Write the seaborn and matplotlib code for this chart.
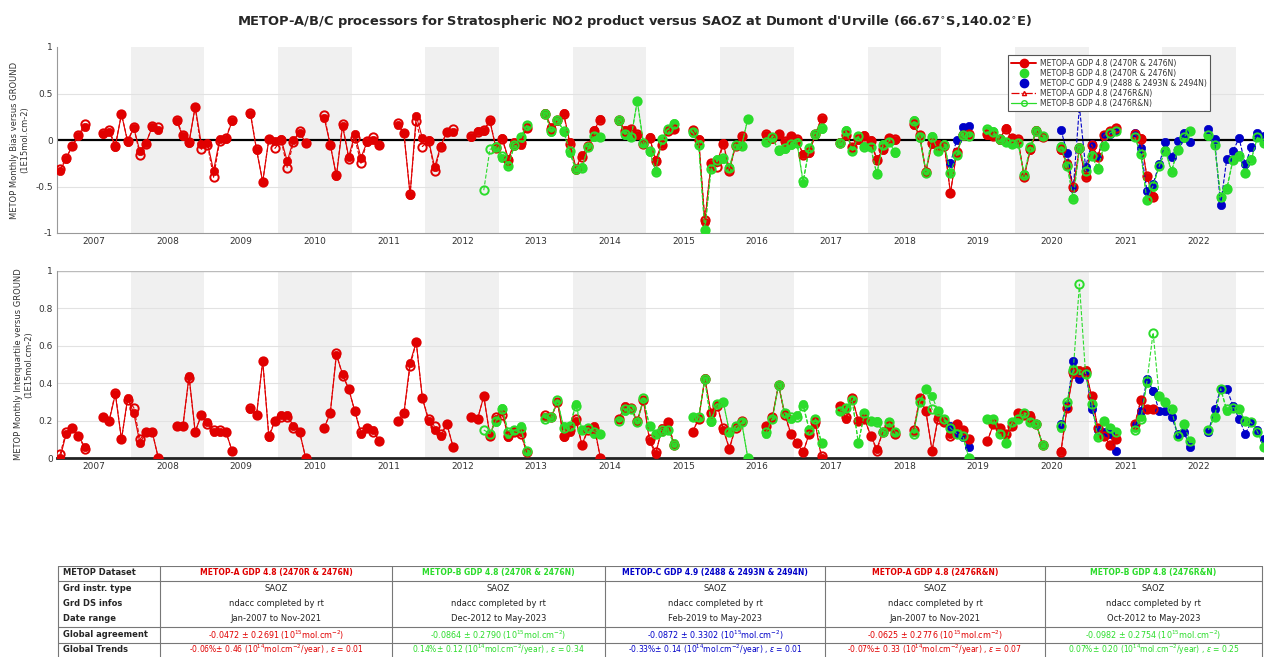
import numpy as np
import pandas as pd
import matplotlib
matplotlib.use("Agg")
import matplotlib.pyplot as plt
from matplotlib.lines import Line2D
import seaborn as sns

na = np.nan

# ---- monthly values (1E15 mol.cm-2), each list starts at its *_start month ----
a_start = "2007-01"
bias_a = [
    -0.33, -0.20, -0.06, 0.04, 0.14, na, na, 0.06, 0.09, -0.07, 0.28, -0.02,
    0.13, -0.12, -0.03, 0.14, 0.11, na, na, 0.20, 0.04, -0.03, 0.36, -0.04,
    -0.03, -0.33, 0.01, 0.01, 0.20, na, na, 0.28, -0.11, -0.45, 0.01, -0.01,
    0.01, -0.23, 0.00, 0.08, -0.03, na, na, 0.24, -0.05, -0.39, 0.15, -0.18,
    0.06, -0.19, -0.02, 0.00, -0.05, na, na, 0.16, 0.07, -0.59, 0.26, 0.02,
    0.00, -0.29, -0.06, 0.09, 0.09, na, na, 0.03, 0.10, 0.10, 0.20, -0.09,
    0.02, -0.20, -0.02, -0.05, 0.14, na, na, 0.29, 0.14, 0.20, 0.29, -0.02,
    -0.30, -0.16, -0.07, 0.11, 0.23, na, na, 0.20, 0.11, 0.11, 0.05, -0.04,
    0.03, -0.21, -0.04, 0.11, 0.12, na, na, 0.11, 0.01, -0.88, -0.26, -0.24,
    -0.03, -0.32, -0.06, 0.03, na, na, na, 0.05, 0.01, 0.06, -0.02, 0.04,
    0.00, -0.15, -0.14, 0.06, 0.23, na, na, -0.02, 0.05, -0.07, 0.00, 0.05,
    0.00, -0.20, -0.11, 0.02, 0.00, na, na, 0.16, 0.04, -0.34, -0.04, -0.04,
    -0.05, -0.57, -0.14, 0.04, 0.05, na, na, 0.05, 0.05, 0.00, 0.13, 0.02,
    0.00, -0.39, -0.11, 0.11, 0.03, na, na, -0.11, -0.25, -0.50, -0.10, -0.39,
    -0.06, -0.18, 0.04, 0.10, 0.12, na, na, 0.06, 0.02, -0.40, -0.60,
]
bias_a2 = [
    -0.31, -0.19, -0.06, 0.05, 0.17, na, na, 0.08, 0.11, -0.06, 0.28, -0.01,
    0.14, -0.16, -0.04, 0.15, 0.14, na, na, 0.22, 0.05, -0.02, 0.35, -0.10,
    -0.05, -0.40, -0.01, 0.02, 0.21, na, na, 0.29, -0.10, -0.45, 0.01, -0.09,
    0.00, -0.30, -0.02, 0.10, -0.03, na, na, 0.27, -0.05, -0.38, 0.17, -0.20,
    0.02, -0.25, -0.01, 0.03, -0.05, na, na, 0.18, 0.07, -0.58, 0.20, -0.07,
    -0.01, -0.33, -0.07, 0.09, 0.12, na, na, 0.04, 0.09, 0.11, 0.21, -0.09,
    0.01, -0.21, -0.05, -0.03, 0.13, na, na, 0.28, 0.12, 0.21, 0.28, -0.04,
    -0.31, -0.18, -0.06, 0.10, 0.22, na, na, 0.21, 0.10, 0.12, 0.06, -0.04,
    0.02, -0.23, -0.05, 0.10, 0.12, na, na, 0.11, 0.00, -0.86, -0.25, -0.29,
    -0.04, -0.33, -0.06, 0.04, na, na, na, 0.06, 0.02, 0.06, -0.01, 0.04,
    0.01, -0.16, -0.13, 0.06, 0.24, na, na, -0.03, 0.05, -0.08, 0.01, 0.04,
    -0.01, -0.22, -0.10, 0.02, 0.01, na, na, 0.17, 0.05, -0.34, -0.03, -0.05,
    -0.06, -0.57, -0.13, 0.05, 0.06, na, na, 0.06, 0.04, 0.01, 0.12, 0.02,
    0.01, -0.40, -0.10, 0.10, 0.03, na, na, -0.10, -0.27, -0.51, -0.09, -0.40,
    -0.05, -0.18, 0.05, 0.10, 0.13, na, na, 0.06, 0.01, -0.39, -0.61,
]
iqr_a = [
    0.00, 0.13, 0.16, 0.12, 0.06, na, na, 0.22, 0.20, 0.34, 0.10, 0.32,
    0.24, 0.08, 0.14, 0.14, 0.00, na, na, 0.17, 0.17, 0.44, 0.14, 0.23,
    0.19, 0.14, 0.14, 0.14, 0.04, na, na, 0.26, 0.23, 0.52, 0.11, 0.20,
    0.23, 0.23, 0.17, 0.14, 0.00, na, na, 0.16, 0.24, 0.55, 0.45, 0.37,
    0.25, 0.13, 0.16, 0.15, 0.09, na, na, 0.20, 0.24, 0.51, 0.62, 0.32,
    0.20, 0.15, 0.12, 0.18, 0.06, na, na, 0.22, 0.21, 0.33, 0.12, 0.21,
    0.25, 0.11, 0.14, 0.14, 0.03, na, na, 0.22, 0.22, 0.30, 0.11, 0.14,
    0.20, 0.07, 0.16, 0.17, 0.00, na, na, 0.21, 0.28, 0.26, 0.20, 0.31,
    0.09, 0.02, 0.16, 0.19, 0.07, na, na, 0.14, 0.21, 0.43, 0.24, 0.29,
    0.15, 0.05, 0.17, 0.20, na, na, na, 0.17, 0.22, 0.39, 0.24, 0.13,
    0.08, 0.03, 0.13, 0.18, 0.00, na, na, 0.28, 0.21, 0.32, 0.20, 0.21,
    0.12, 0.05, 0.14, 0.17, 0.13, na, na, 0.14, 0.32, 0.25, 0.04, 0.22,
    0.20, 0.13, 0.18, 0.15, 0.10, na, na, 0.09, 0.18, 0.16, 0.13, 0.17,
    0.24, 0.23, 0.23, 0.18, 0.07, na, na, 0.04, 0.27, 0.45, 0.47, 0.47,
    0.33, 0.16, 0.12, 0.07, 0.10, na, na, 0.17, 0.31, 0.26, 0.26,
]
iqr_a2 = [
    0.02, 0.14, 0.16, 0.12, 0.05, na, na, 0.22, 0.20, 0.35, 0.10, 0.31,
    0.27, 0.10, 0.14, 0.14, 0.00, na, na, 0.17, 0.17, 0.43, 0.14, 0.23,
    0.18, 0.15, 0.15, 0.14, 0.04, na, na, 0.27, 0.23, 0.52, 0.12, 0.20,
    0.22, 0.22, 0.16, 0.14, 0.00, na, na, 0.16, 0.24, 0.56, 0.44, 0.37,
    0.25, 0.14, 0.16, 0.14, 0.09, na, na, 0.20, 0.24, 0.49, 0.62, 0.32,
    0.21, 0.17, 0.13, 0.18, 0.06, na, na, 0.22, 0.21, 0.33, 0.12, 0.22,
    0.23, 0.12, 0.14, 0.13, 0.03, na, na, 0.23, 0.22, 0.30, 0.12, 0.15,
    0.21, 0.07, 0.15, 0.16, 0.00, na, na, 0.21, 0.27, 0.27, 0.20, 0.31,
    0.10, 0.03, 0.15, 0.19, 0.07, na, na, 0.14, 0.21, 0.42, 0.24, 0.28,
    0.16, 0.05, 0.16, 0.20, na, na, na, 0.17, 0.22, 0.39, 0.23, 0.13,
    0.08, 0.03, 0.13, 0.19, 0.01, na, na, 0.28, 0.22, 0.32, 0.20, 0.21,
    0.12, 0.04, 0.14, 0.17, 0.13, na, na, 0.15, 0.32, 0.25, 0.04, 0.21,
    0.19, 0.12, 0.18, 0.15, 0.10, na, na, 0.09, 0.18, 0.16, 0.13, 0.17,
    0.24, 0.23, 0.22, 0.18, 0.07, na, na, 0.03, 0.27, 0.46, 0.46, 0.46,
    0.33, 0.16, 0.12, 0.07, 0.10, na, na, 0.18, 0.31, 0.26, 0.26,
]

b_start = "2012-12"
bias_b = [
    -0.06,
    -0.19, -0.27, -0.06, 0.02, 0.15, na, na, 0.29, 0.09, 0.21, 0.09, -0.14,
    -0.32, -0.29, -0.08, 0.03, 0.03, na, na, 0.20, 0.05, 0.04, 0.42, -0.04,
    -0.13, -0.33, 0.00, 0.11, 0.18, na, na, 0.08, -0.04, -0.97, -0.30, -0.20,
    -0.20, -0.29, -0.06, -0.06, 0.23, na, na, -0.01, 0.03, -0.12, -0.10, -0.05,
    -0.02, -0.46, -0.09, 0.05, 0.12, na, na, -0.02, 0.11, -0.11, 0.04, -0.06,
    -0.07, -0.36, -0.04, -0.02, -0.14, na, na, 0.21, 0.02, -0.34, 0.04, -0.12,
    -0.04, -0.36, -0.15, 0.04, 0.04, na, na, 0.11, 0.10, 0.00, -0.02, -0.04,
    -0.03, -0.37, -0.07, 0.11, 0.03, na, na, -0.06, -0.27, -0.62, -0.08, -0.32,
    -0.16, -0.30, -0.06, 0.07, 0.10, na, na, 0.04, -0.14, -0.65, -0.50, -0.27,
    -0.11, -0.33, -0.11, 0.02, 0.10, na, na, 0.04, -0.04, -0.62, -0.52, -0.21,
    -0.16, -0.36, -0.20, 0.03, -0.02,
]
iqr_b = [
    0.19,
    0.27, 0.13, 0.15, 0.17, 0.04, na, na, 0.22, 0.22, 0.30, 0.17, 0.17,
    0.29, 0.15, 0.16, 0.13, 0.13, na, na, 0.21, 0.25, 0.26, 0.19, 0.31,
    0.17, 0.13, 0.14, 0.15, 0.08, na, na, 0.22, 0.22, 0.42, 0.19, 0.29,
    0.30, 0.14, 0.17, 0.19, 0.00, na, na, 0.13, 0.21, 0.39, 0.24, 0.21,
    0.23, 0.29, 0.15, 0.21, 0.08, na, na, 0.25, 0.27, 0.31, 0.08, 0.24,
    0.20, 0.20, 0.14, 0.19, 0.14, na, na, 0.14, 0.30, 0.37, 0.33, 0.25,
    0.21, 0.16, 0.14, 0.12, 0.00, na, na, 0.21, 0.21, 0.13, 0.08, 0.19,
    0.21, 0.24, 0.19, 0.18, 0.07, na, na, 0.16, 0.29, 0.48, 0.46, 0.45,
    0.29, 0.12, 0.20, 0.16, 0.14, na, na, 0.16, 0.22, 0.40, 0.36, 0.33,
    0.30, 0.26, 0.12, 0.18, 0.09, na, na, 0.15, 0.22, 0.37, 0.25, 0.27,
    0.26, 0.20, 0.19, 0.14, 0.06,
]

b2_start = "2012-10"
bias_b2 = [
    -0.54, -0.10, -0.08,
    -0.17, -0.28, -0.05, 0.03, 0.16, na, na, 0.28, 0.10, 0.22, 0.10, -0.12,
    -0.31, -0.30, -0.07, 0.04, 0.03, na, na, 0.21, 0.06, 0.03, 0.42, -0.03,
    -0.12, -0.34, 0.01, 0.12, 0.17, na, na, 0.09, -0.05, -0.97, -0.31, -0.22,
    -0.19, -0.30, -0.05, -0.06, 0.23, na, na, -0.02, 0.03, -0.11, -0.09, -0.04,
    -0.03, -0.44, -0.09, 0.06, 0.13, na, na, -0.03, 0.10, -0.12, 0.04, -0.07,
    -0.08, -0.37, -0.05, -0.02, -0.13, na, na, 0.20, 0.03, -0.35, 0.03, -0.12,
    -0.05, -0.35, -0.16, 0.05, 0.04, na, na, 0.12, 0.09, 0.01, -0.02, -0.04,
    -0.03, -0.38, -0.08, 0.10, 0.04, na, na, -0.07, -0.28, -0.63, -0.09, -0.33,
    -0.17, -0.31, -0.06, 0.08, 0.10, na, na, 0.03, -0.15, -0.65, -0.49, -0.28,
    -0.12, -0.34, -0.11, 0.03, 0.10, na, na, 0.05, -0.05, -0.61, -0.53, -0.22,
    -0.17, -0.36, -0.21, 0.03, -0.03,
]
iqr_b2 = [
    0.15, 0.13, 0.20,
    0.26, 0.14, 0.15, 0.16, 0.04, na, na, 0.21, 0.22, 0.31, 0.16, 0.17,
    0.28, 0.15, 0.16, 0.14, 0.13, na, na, 0.20, 0.26, 0.26, 0.19, 0.32,
    0.17, 0.13, 0.15, 0.15, 0.07, na, na, 0.22, 0.22, 0.42, 0.20, 0.29,
    0.30, 0.14, 0.17, 0.19, 0.00, na, na, 0.14, 0.21, 0.39, 0.24, 0.22,
    0.22, 0.28, 0.15, 0.21, 0.08, na, na, 0.25, 0.27, 0.31, 0.08, 0.24,
    0.20, 0.19, 0.14, 0.19, 0.14, na, na, 0.13, 0.30, 0.37, 0.26, 0.25,
    0.21, 0.16, 0.13, 0.12, 0.00, na, na, 0.21, 0.21, 0.13, 0.08, 0.19,
    0.21, 0.24, 0.19, 0.18, 0.07, na, na, 0.17, 0.30, 0.47, 0.93, 0.45,
    0.29, 0.11, 0.20, 0.16, 0.14, na, na, 0.15, 0.21, 0.41, 0.67, 0.33,
    0.30, 0.26, 0.12, 0.18, 0.09, na, na, 0.15, 0.22, 0.37, 0.26, 0.27,
    0.26, 0.20, 0.19, 0.14, 0.06,
]

c_start = "2019-02"
bias_c = [
    -0.25, 0.00, 0.14, 0.15, na, na, na, na, na, na, na,
    na, na, na, na, na, na, na, 0.11, -0.14, -0.52, 0.36, -0.29,
    -0.04, -0.18, 0.04, 0.06, 0.10, na, na, 0.07, -0.09, -0.55, -0.47, -0.26,
    -0.02, -0.18, -0.01, 0.08, -0.02, na, na, 0.12, 0.01, -0.70, -0.20, -0.12,
    0.02, -0.26, -0.08, 0.07, 0.04,
]
iqr_c = [
    0.17, 0.13, 0.11, 0.06, na, na, na, na, na, na, na,
    na, na, na, na, na, na, na, 0.18, 0.28, 0.52, 0.42, 0.46,
    0.26, 0.15, 0.14, 0.13, 0.04, na, na, 0.18, 0.25, 0.42, 0.36, 0.25,
    0.25, 0.22, 0.13, 0.14, 0.06, na, na, 0.14, 0.26, 0.37, 0.37, 0.28,
    0.21, 0.13, 0.19, 0.15, 0.10,
]

labels = [
    "METOP-A GDP 4.8 (2470R & 2476N)",
    "METOP-B GDP 4.8 (2470R & 2476N)",
    "METOP-C GDP 4.9 (2488 & 2493N & 2494N)",
    "METOP-A GDP 4.8 (2476R&N)",
    "METOP-B GDP 4.8 (2476R&N)",
]
colors = ["#e00000", "#2bdc2b", "#0000c8", "#e00000", "#2bdc2b"]

# table content
row_names = ["METOP Dataset", "Grd instr. type", "Grd DS infos", "Date range",
             "Global agreement", "Global Trends"]
date_ranges = ["Jan-2007 to Nov-2021", "Dec-2012 to May-2023", "Feb-2019 to May-2023",
               "Jan-2007 to Nov-2021", "Oct-2012 to May-2023"]
agreement = ["-0.0472 ± 0.2691", "-0.0864 ± 0.2790", "-0.0872 ± 0.3302",
             "-0.0625 ± 0.2776", "-0.0982 ± 0.2754"]
trend_pct = ["-0.06%± 0.46", "0.14%± 0.12", "-0.33%± 0.14", "-0.07%± 0.33", "0.07%± 0.20"]
trend_eps = ["0.01", "0.34", "0.01", "0.07", "0.25"]


def to_frame(start, values):
    dates = pd.date_range(start, periods=len(values), freq="MS")
    df = pd.DataFrame({"t": dates.year + (dates.month - 0.5) / 12, "v": values})
    # one line per observing season (Aug..May), so the winter gap is not bridged
    df["season"] = np.where(dates.month >= 7, dates.year, dates.year - 1)
    return df.dropna()


def draw(ax, df, color, filled, ls, z):
    kw = dict(marker="o", markersize=6, color=color, linestyle=ls, linewidth=0.8, zorder=z)
    if filled:
        kw.update(markerfacecolor=color, markeredgecolor=color, markeredgewidth=0.5)
    else:
        kw.update(markerfacecolor="none", markeredgecolor=color, markeredgewidth=1.4)
    sns.lineplot(data=df, x="t", y="v", units="season", estimator=None,
                 ax=ax, legend=False, **kw)


sns.set_style("white")
plt.rcParams["font.family"] = ["DejaVu Sans"]

fig = plt.figure(figsize=(12.64, 6.57), dpi=100)
ax1 = fig.add_axes([57 / 1264, 1 - 233 / 657, 1 - 57 / 1264, 186 / 657])
ax2 = fig.add_axes([57 / 1264, 1 - 458 / 657, 1 - 57 / 1264, 187 / 657])

panels = [
    (ax1, [bias_a, bias_b, bias_c, bias_a2, bias_b2]),
    (ax2, [iqr_a, iqr_b, iqr_c, iqr_a2, iqr_b2]),
]
starts = [a_start, b_start, c_start, a_start, b2_start]
styles = [(True, "-"), (True, "--"), (True, "--"), (False, "--"), (False, "--")]

for ax, series in panels:
    for yr in range(2008, 2024, 2):
        ax.axvspan(yr, yr + 1, color="#f0f0f0", zorder=0, lw=0)
    for i, vals in enumerate(series):
        filled, ls = styles[i]
        draw(ax, to_frame(starts[i], vals), colors[i], filled, ls, 3 + i)
    ax.set_xlim(2007, 2023.38)
    ax.set_xticks(np.arange(2007, 2023) + 0.5)
    ax.set_xticklabels([str(y) for y in range(2007, 2023)], fontsize=6.5, color="#333333")
    ax.set_xticks(np.arange(2008, 2024), minor=True)
    ax.tick_params(axis="x", which="major", length=0, pad=3)
    ax.tick_params(axis="x", which="minor", length=5, direction="in", color="#555555", width=0.8)
    ax.tick_params(axis="y", length=4, direction="in", labelsize=6.5, labelcolor="#333333", pad=3)
    ax.set_xlabel("")
    for s in ["top", "right"]:
        ax.spines[s].set_visible(False)
    ax.spines["left"].set_color("#999999")
    ax.spines["bottom"].set_color("#999999")

ax1.set_ylim(-1, 1)
ax1.set_yticks([-1, -0.5, 0, 0.5, 1])
ax1.set_yticklabels(["-1", "-0.5", "0", "0.5", "1"])
for y in [-0.5, 0.5]:
    ax1.axhline(y, color="#e2e2e2", lw=0.8, zorder=1)
ax1.axhline(0, color="black", lw=1.6, zorder=2)
ax1.set_ylabel("METOP Monthly Bias versus GROUND\n(1E15mol.cm-2)", fontsize=6, color="#333333", labelpad=4)

ax2.set_ylim(0, 1)
ax2.set_yticks([0, 0.2, 0.4, 0.6, 0.8, 1])
ax2.set_yticklabels(["0", "0.2", "0.4", "0.6", "0.8", "1"])
for y in [0.2, 0.4, 0.6, 0.8]:
    ax2.axhline(y, color="#e2e2e2", lw=0.8, zorder=1)
ax2.axhline(1, color="#bbbbbb", lw=1.0, zorder=1)
ax2.spines["bottom"].set_color("#222222")
ax2.spines["bottom"].set_linewidth(2.0)
ax2.set_ylabel("METOP Monthly Interquartile versus GROUND\n(1E15mol.cm-2)", fontsize=6, color="#333333", labelpad=4)

handles = []
for i, lab in enumerate(labels):
    if i == 0:
        h = Line2D([], [], color=colors[i], ls="-", lw=1.4, marker="o", ms=6, mfc=colors[i], mec=colors[i])
    elif i in (1, 2):
        h = Line2D([], [], color=colors[i], ls="none", marker="o", ms=6, mfc=colors[i], mec=colors[i])
    elif i == 3:
        h = Line2D([], [], color=colors[i], ls="-.", lw=0.9, marker="^", ms=3, mfc="none", mec=colors[i])
    else:
        h = Line2D([], [], color=colors[i], ls="-", lw=0.9, marker="o", ms=4, mfc="none", mec=colors[i])
    handles.append(h)
leg = ax1.legend(handles, labels, loc="upper left", bbox_to_anchor=(0.785, 0.975), fontsize=5.5,
                 frameon=True, fancybox=False, edgecolor="#555555", framealpha=1,
                 handlelength=3.2, borderpad=0.4, labelspacing=0.15, handletextpad=0.6)
leg.get_frame().set_linewidth(0.8)
for t in leg.get_texts():
    t.set_color("#333333")

fig.text(0.502, 0.968,
         "METOP-A/B/C processors for Stratospheric NO2 product versus SAOZ at Dumont d'Urville "
         "(66.67$^{\\circ}$S,140.02$^{\\circ}$E)",
         ha="center", va="center", fontsize=9.4, fontweight="bold")

# ---- summary table (pixel coordinates) ----
tab = fig.add_axes([57 / 1264, 0, 1 - 57 / 1264, 91 / 657])
tab.set_xlim(57, 1264)
tab.set_ylim(657, 566)
tab.axis("off")
col_edges = [58, 160, 392, 605, 825, 1045, 1262]
row_y = [573, 589, 604, 619, 635, 650]
for x in col_edges:
    tab.plot([x, x], [566, 657], color="#777777", lw=0.8)
for y in [566.5, 581, 627, 643]:
    tab.plot([col_edges[0], col_edges[-1]], [y, y], color="#777777", lw=0.8)
for name, y in zip(row_names, row_y):
    tab.text(63, y, name, ha="left", va="center", fontsize=6, fontweight="bold")
unit = "(10$^{15}$mol.cm$^{-2}$)"
for j in range(5):
    xc = (col_edges[j + 1] + col_edges[j + 2]) / 2
    c = colors[j]
    tab.text(xc, row_y[0], labels[j], ha="center", va="center", fontsize=5.5, fontweight="bold", color=c)
    tab.text(xc, row_y[1], "SAOZ", ha="center", va="center", fontsize=6, color="#222222")
    tab.text(xc, row_y[2], "ndacc completed by rt", ha="center", va="center", fontsize=6, color="#222222")
    tab.text(xc, row_y[3], date_ranges[j], ha="center", va="center", fontsize=6, color="#222222")
    tab.text(xc, row_y[4], agreement[j] + " " + unit, ha="center", va="center", fontsize=5.8, color=c)
    tab.text(xc, row_y[5],
             trend_pct[j] + " (10$^{14}$mol.cm$^{-2}$/year) , $\\epsilon$ = " + trend_eps[j],
             ha="center", va="center", fontsize=5.5, color=c)

fig.savefig("out.png", dpi=100)
